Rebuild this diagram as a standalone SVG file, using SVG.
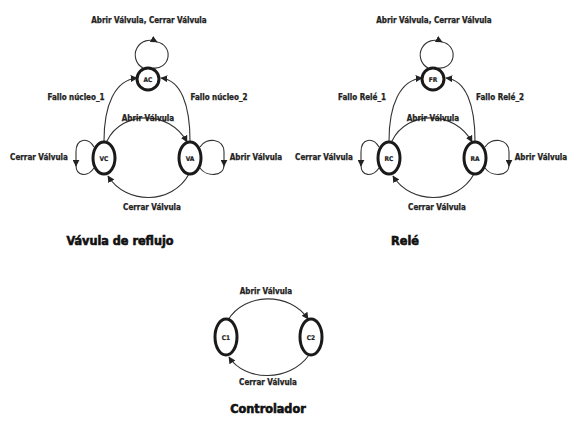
<svg xmlns="http://www.w3.org/2000/svg" width="572" height="428" viewBox="0 0 572 428">
<defs>
<marker id="ah" viewBox="0 0 10 10" refX="9" refY="5" markerWidth="7" markerHeight="7" orient="auto" markerUnits="userSpaceOnUse">
<path d="M0,0 L10,5 L0,10 Z" fill="#222"/>
</marker>
<style>
.n{fill:#fff;stroke:#1a1a1a;stroke-width:3}
.e{fill:none;stroke:#333;stroke-width:1.1}
.a{fill:none;stroke:#333;stroke-width:1.1;marker-end:url(#ah)}
.l{font-family:"DejaVu Sans Condensed","DejaVu Sans",sans-serif;font-stretch:condensed;font-weight:bold;font-size:8px;fill:#222;stroke:#222;stroke-width:0.25;text-anchor:middle}
.t{font-family:"DejaVu Sans Condensed","DejaVu Sans",sans-serif;font-stretch:condensed;font-weight:900;font-size:12.5px;fill:#111;stroke:#111;stroke-width:0.6;text-anchor:middle}
.s{font-family:"DejaVu Sans Condensed","DejaVu Sans",sans-serif;font-weight:bold;font-size:6.5px;fill:#222;stroke:#222;stroke-width:0.2;text-anchor:middle}
</style>
</defs>
<rect width="572" height="428" fill="#fff"/>

<g id="connectors">
<!-- left -->
<path class="a" d="M143,68 A11,11 0 1 1 157,42"/>
<path class="e" d="M157,42 A11,11 0 0 1 153,68"/>
<path class="a" d="M104,141 C104,105 115,80 137,78"/>
<path class="a" d="M190,141 C190,105 181,80 161,78"/>
<path class="a" d="M107,141 C122,110 170,110 187,142"/>
<path class="a" d="M189,174 C172,205 126,205 108,176"/>
<path class="a" d="M94,147 C88,137 76,138 76,152 L76,166"/>
<path class="e" d="M76,165 C76,177 88,177 94,168"/>
<path class="a" d="M200,147 C206,137 224,138 224,152 L224,166"/>
<path class="e" d="M224,165 C224,177 206,177 200,168"/>
<!-- right -->
<path class="a" d="M428,68 A11,11 0 1 1 442,42"/>
<path class="e" d="M442,42 A11,11 0 0 1 438,68"/>
<path class="a" d="M389,141 C389,105 400,80 422,78"/>
<path class="a" d="M475,141 C475,105 466,80 446,78"/>
<path class="a" d="M392,141 C407,110 455,110 472,142"/>
<path class="a" d="M474,174 C457,205 411,205 393,176"/>
<path class="a" d="M379,147 C373,137 361,138 361,152 L361,166"/>
<path class="e" d="M361,165 C361,177 373,177 379,168"/>
<path class="a" d="M485,147 C491,137 509,138 509,152 L509,166"/>
<path class="e" d="M509,165 C509,177 491,177 485,168"/>
<!-- controller -->
<path class="a" d="M228,320 C245,292 290,292 308,319"/>
<path class="a" d="M309,355 C290,382 245,382 229,357"/>
</g>

<g id="labels">
<text class="l" x="149" y="23">Abrir Válvula, Cerrar Válvula</text>
<text class="l" x="76" y="100">Fallo núcleo_1</text>
<text class="l" x="219" y="100">Fallo núcleo_2</text>
<text class="l" x="148" y="121">Abrir Válvula</text>
<text class="l" x="39" y="160">Cerrar Válvula</text>
<text class="l" x="256" y="160">Abrir Válvula</text>
<text class="l" x="152" y="210">Cerrar Válvula</text>
<text class="t" x="120" y="245">Vávula de reflujo</text>

<text class="l" x="434" y="23">Abrir Válvula, Cerrar Válvula</text>
<text class="l" x="362" y="100">Fallo Relé_1</text>
<text class="l" x="500" y="100">Fallo Relé_2</text>
<text class="l" x="433" y="121">Abrir Válvula</text>
<text class="l" x="324" y="160">Cerrar Válvula</text>
<text class="l" x="541" y="160">Abrir Válvula</text>
<text class="l" x="437" y="210">Cerrar Válvula</text>
<text class="t" x="405" y="245">Relé</text>

<text class="l" x="266" y="294">Abrir Válvula</text>
<text class="l" x="268" y="385">Cerrar Válvula</text>
<text class="t" x="268" y="413">Controlador</text>
</g>

<g id="node-AC"><ellipse class="n" cx="148" cy="79" rx="11" ry="11"/><text class="s" x="148" y="81.5">AC</text></g>
<g id="node-VC"><ellipse class="n" cx="104" cy="158" rx="11" ry="16"/><text class="s" x="104" y="160.5">VC</text></g>
<g id="node-VA"><ellipse class="n" cx="190" cy="158" rx="11" ry="16"/><text class="s" x="190" y="160.5">VA</text></g>

<g id="node-FR"><ellipse class="n" cx="433" cy="79" rx="11" ry="11"/><text class="s" x="433" y="81.5">FR</text></g>
<g id="node-RC"><ellipse class="n" cx="389" cy="158" rx="11" ry="16"/><text class="s" x="389" y="160.5">RC</text></g>
<g id="node-RA"><ellipse class="n" cx="475" cy="158" rx="11" ry="16"/><text class="s" x="475" y="160.5">RA</text></g>

<g id="node-C1"><ellipse class="n" cx="226" cy="337" rx="11" ry="18"/><text class="s" x="226" y="339.5">C1</text></g>
<g id="node-C2"><ellipse class="n" cx="311" cy="337" rx="11" ry="18"/><text class="s" x="311" y="339.5">C2</text></g>
</svg>
